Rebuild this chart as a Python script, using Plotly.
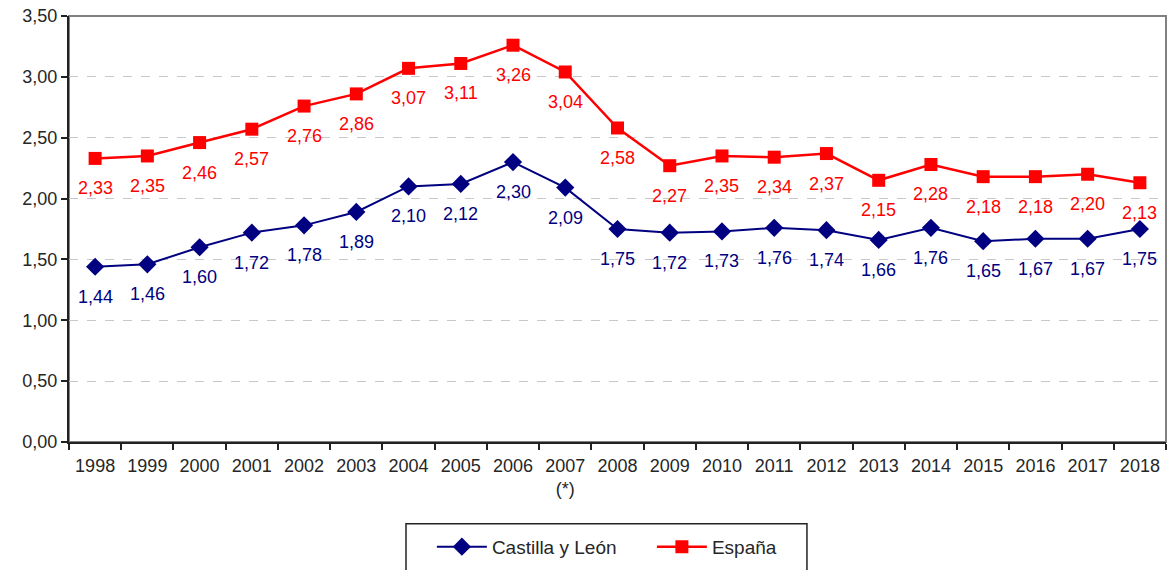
import plotly.graph_objects as go

years = [str(y) for y in range(1998, 2019)]
tick_labels = [y if y != "2007" else "2007<br>(*)" for y in years]
castilla = [1.44, 1.46, 1.60, 1.72, 1.78, 1.89, 2.10, 2.12, 2.30, 2.09, 1.75,
            1.72, 1.73, 1.76, 1.74, 1.66, 1.76, 1.65, 1.67, 1.67, 1.75]
espana = [2.33, 2.35, 2.46, 2.57, 2.76, 2.86, 3.07, 3.11, 3.26, 3.04, 2.58,
          2.27, 2.35, 2.34, 2.37, 2.15, 2.28, 2.18, 2.18, 2.20, 2.13]

NAVY = "#000080"
RED = "#FF0000"
FONT = "Liberation Sans, Arial, sans-serif"
TXT = "#262626"

fig = go.Figure()
fig.add_trace(go.Scatter(x=years, y=castilla, name="Castilla y León", mode="lines+markers",
                         line=dict(color=NAVY, width=2),
                         marker=dict(symbol="diamond", size=14, color=NAVY)))
fig.add_trace(go.Scatter(x=years, y=espana, name="España", mode="lines+markers",
                         line=dict(color=RED, width=2.5),
                         marker=dict(symbol="square", size=13, color=RED)))

def fmt(v):
    return f"{v:.2f}".replace(".", ",")

for series, color in ((castilla, NAVY), (espana, RED)):
    for i, v in enumerate(series):
        fig.add_annotation(x=i, y=v, text=fmt(v), showarrow=False, yshift=-30,
                           font=dict(family=FONT, size=18, color=color))

# plot-area border (gray)
fig.add_shape(type="rect", xref="paper", yref="paper", x0=0, x1=1, y0=0, y1=1,
              line=dict(color="#808080", width=2), layer="below")
# legend box
fig.add_shape(type="rect", xref="paper", yref="paper", x0=0.3072, x1=0.6727,
              y0=-0.192, y1=-0.33, line=dict(color="#222222", width=1.5), layer="below")

fig.update_layout(
    width=1172, height=570,
    margin=dict(l=69, r=6, t=16, b=128, autoexpand=False),
    paper_bgcolor="white", plot_bgcolor="white",
    separators=",.",
    font=dict(family=FONT, size=18, color=TXT),
    showlegend=True,
    legend=dict(orientation="h", x=0.3308, xanchor="left", y=-0.246, yanchor="middle",
                entrywidth=155, entrywidthmode="pixels", itemwidth=50,
                font=dict(family=FONT, size=19, color=TXT),
                bgcolor="rgba(0,0,0,0)"),
    xaxis=dict(type="category", range=[-0.5, 20.5], tickmode="array", tickvals=years,
               ticktext=tick_labels, tickangle=0, ticklabelstandoff=6, automargin=False,
               ticks="outside", tickson="boundaries", ticklen=6, tickwidth=2,
               tickcolor="#222222", showline=True, linecolor="#222222", linewidth=2,
               showgrid=False, tickfont=dict(family=FONT, size=18, color=TXT)),
    yaxis=dict(range=[0, 3.5], dtick=0.5, tickformat=".2f", ticks="outside",
               ticklen=6, tickwidth=2, tickcolor="#222222",
               automargin=False,
               showline=True, linecolor="#222222", linewidth=2,
               showgrid=True, gridcolor="#c8c8c8", griddash="dash", gridwidth=1,
               zeroline=False, tickfont=dict(family=FONT, size=18, color=TXT)),
)

fig.write_html("out.html", config={"displayModeBar": False},
               post_script="document.body.style.margin='0';")
